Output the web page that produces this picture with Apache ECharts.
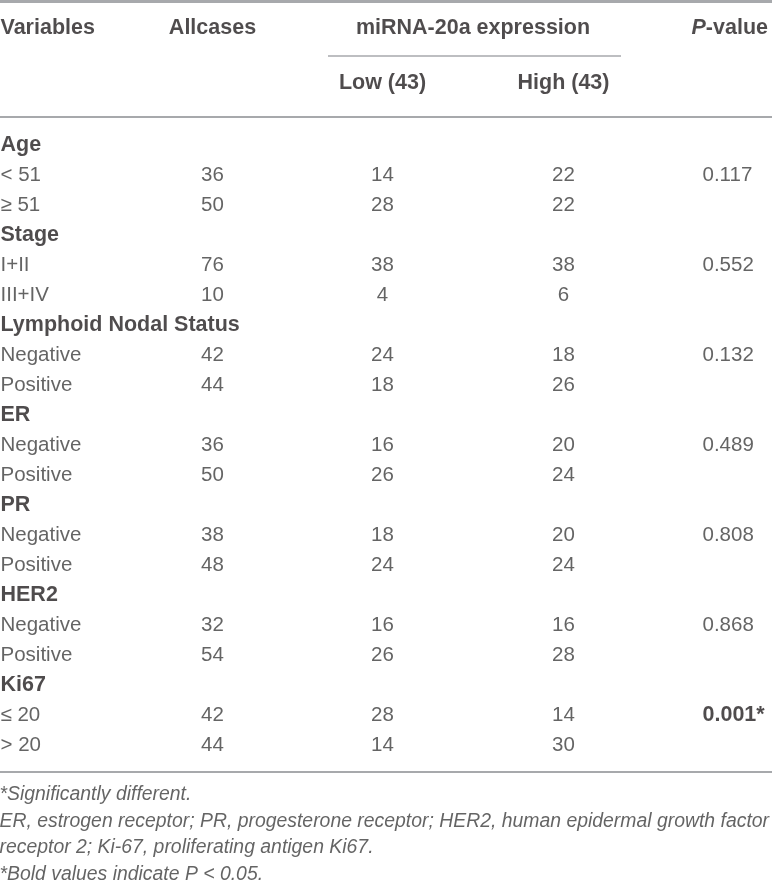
<!DOCTYPE html>
<html>
<head>
<meta charset="utf-8">
<script src="https://cdn.jsdelivr.net/npm/echarts@6/dist/echarts.min.js"></script>
<style>
html,body{margin:0;padding:0;background:#fff;}
#main{width:772px;height:887px;}
</style>
</head>
<body>
<div id="main"></div>
<script>
// table data
var groups = ['Age', 'Stage', 'Lymphoid Nodal Status', 'ER', 'PR', 'HER2', 'Ki67'];
var subLabels = ['< 51', '≥ 51', 'I+II', 'III+IV', 'Negative', 'Positive', 'Negative', 'Positive',
	'Negative', 'Positive', 'Negative', 'Positive', '≤ 20', '> 20'];
var allCases = [36, 50, 76, 10, 42, 44, 36, 50, 38, 48, 32, 54, 42, 44];
var lowVals = [14, 28, 38, 4, 24, 18, 16, 26, 18, 24, 16, 26, 28, 14];
var highVals = [22, 22, 38, 6, 18, 26, 20, 24, 20, 24, 16, 28, 14, 30];
var pValues = ['0.117', '0.552', '0.132', '0.489', '0.808', '0.868', '0.001*'];
var pBold = [false, false, false, false, false, false, true];
var headers = ['Variables', 'Allcases', 'miRNA-20a expression', 'P-value'];
var subHeaders = ['Low (43)', 'High (43)'];
var notes = ['*Significantly different.',
	'ER, estrogen receptor; PR, progesterone receptor; HER2, human epidermal growth factor',
	'receptor 2; Ki-67, proliferating antigen Ki67.',
	'*Bold values indicate P < 0.05.'];

// layout
var W = 772, H = 887;
var colX = {vars: 1, all: 213, low: 383, high: 564, p: 703};
var rowTop = 146, rowStep = 30;
var noteY = [795, 822, 848, 875];
var FONT = '"Liberation Sans", Arial, sans-serif';
var darkC = '#231f20', bodyC = '#3d3d3d', lineC = '#a7a9ac';

function cell(x, y, text, align, style){
	var lab = {
		show: true, position: [0, 0], align: align, verticalAlign: 'middle',
		formatter: text, fontFamily: FONT, fontSize: 20.5, color: bodyC
	};
	for (var k in style) lab[k] = style[k];
	return {value: [x, y], label: lab};
}
var boldS = {fontWeight: 'bold', fontSize: 21.5, color: darkC};

var cells = [];
// header
cells.push(cell(colX.vars, 29, headers[0], 'left', boldS));
cells.push(cell(colX.all, 29, headers[1], 'center', boldS));
cells.push(cell((colX.low + colX.high) / 2, 29, headers[2], 'center', boldS));
cells.push(cell(692, 29, '{i|P}{b|-value}', 'left', {
	rich: {
		i: {fontStyle: 'italic', fontWeight: 'bold', fontSize: 21.5, color: darkC, fontFamily: FONT},
		b: {fontWeight: 'bold', fontSize: 21.5, color: darkC, fontFamily: FONT}
	}
}));
cells.push(cell(colX.low, 84, subHeaders[0], 'center', boldS));
cells.push(cell(colX.high, 84, subHeaders[1], 'center', boldS));

// body
var r = 0;
for (var g = 0; g < groups.length; g++){
	cells.push(cell(colX.vars, rowTop + rowStep * r, groups[g], 'left', boldS));
	r++;
	for (var j = 0; j < 2; j++){
		var i = g * 2 + j;
		var y = rowTop + rowStep * r;
		cells.push(cell(colX.vars, y, subLabels[i], 'left', {}));
		cells.push(cell(colX.all, y, String(allCases[i]), 'center', {}));
		cells.push(cell(colX.low, y, String(lowVals[i]), 'center', {}));
		cells.push(cell(colX.high, y, String(highVals[i]), 'center', {}));
		if (j == 0){
			cells.push(cell(colX.p, y, pValues[g], 'left', pBold[g] ? boldS : {}));
		}
		r++;
	}
}

// footnotes
for (var n = 0; n < notes.length; n++){
	cells.push(cell(0, noteY[n], notes[n], 'left', {fontStyle: 'italic', fontSize: 19.4}));
}

var rules = [
	{coords: [[0, 1.5], [W, 1.5]], lineStyle: {width: 3}},
	{coords: [[328, 56], [621, 56]], lineStyle: {width: 1.5}},
	{coords: [[0, 117], [W, 117]], lineStyle: {width: 2}},
	{coords: [[0, 772], [W, 772]], lineStyle: {width: 2}}
];

var chart = echarts.init(document.getElementById('main'));
var option = {
	animation: false,
	backgroundColor: '#fff',
	grid: {left: 0, right: 0, top: 0, bottom: 0},
	xAxis: {type: 'value', min: 0, max: W, show: false},
	yAxis: {type: 'value', min: 0, max: H, inverse: true, show: false},
	series: [{
		type: 'lines',
		coordinateSystem: 'cartesian2d',
		polyline: false,
		silent: true,
		lineStyle: {color: lineC, opacity: 1},
		data: rules
	}, {
		type: 'scatter',
		symbolSize: 1,
		silent: true,
		itemStyle: {color: 'rgba(0,0,0,0)'},
		labelLayout: {hideOverlap: false},
		data: cells
	}]
};
chart.setOption(option);
</script>
</body>
</html>
